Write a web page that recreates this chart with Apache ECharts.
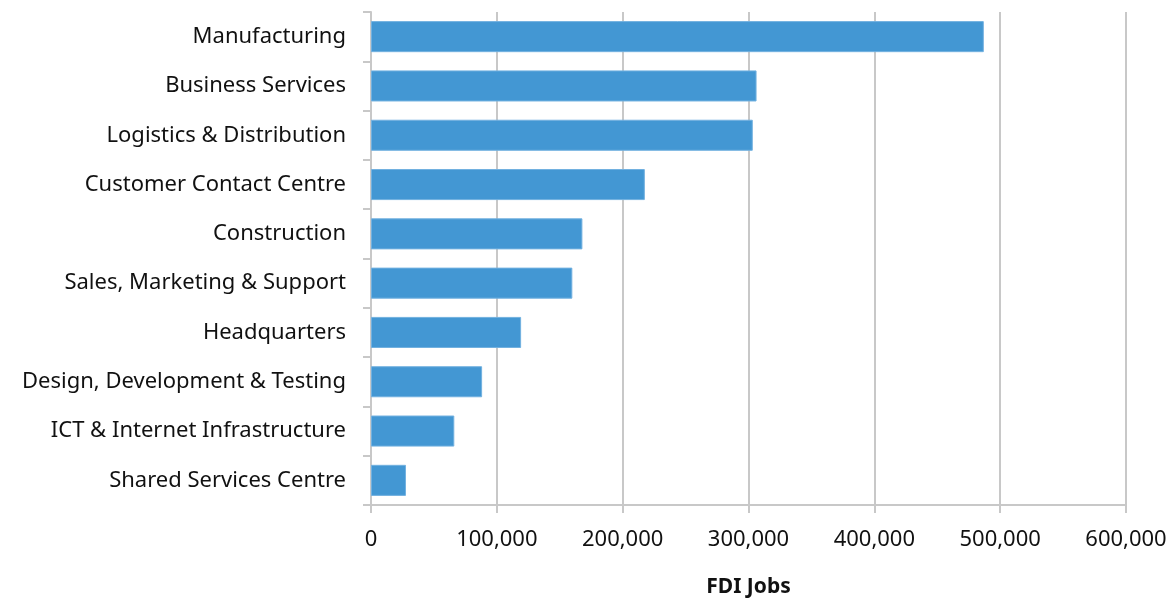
<!DOCTYPE html>
<html>
<head>
<meta charset="utf-8">
<script src="https://cdn.jsdelivr.net/npm/echarts@6/dist/echarts.min.js"></script>
<style>
  html, body { margin: 0; padding: 0; background: #ffffff; }
  #chart { width: 1176px; height: 599px; }
</style>
</head>
<body>
<div id="chart"></div>
<script>
// FDI jobs by business activity
const categories = [
  'Manufacturing',
  'Business Services',
  'Logistics & Distribution',
  'Customer Contact Centre',
  'Construction',
  'Sales, Marketing & Support',
  'Headquarters',
  'Design, Development & Testing',
  'ICT & Internet Infrastructure',
  'Shared Services Centre'
];
const jobs = [487000, 306400, 303400, 217600, 168000, 160000, 119300, 88300, 66200, 27800];
const xTicks = { min: 0, max: 600000, interval: 100000 };

const gridColor = '#c8c8c8';
const fontFamily = '"Noto Sans", "Open Sans", sans-serif';
const fontSize = 22;

const chart = echarts.init(document.getElementById('chart'), null, { renderer: 'canvas' });
chart.setOption({
  animation: false,
  grid: { left: 371, right: 50, top: 12, bottom: 94, containLabel: false, outerBoundsMode: 'none' },
  xAxis: {
    type: 'value',
    min: xTicks.min,
    max: xTicks.max,
    interval: xTicks.interval,
    name: 'FDI Jobs',
    nameLocation: 'middle',
    nameGap: 72,
    nameTextStyle: { fontFamily, fontSize: 21, fontWeight: 'bold', color: '#111' },
    axisLine: { show: true, lineStyle: { color: gridColor, width: 2 } },
    axisTick: { show: true, length: 8, lineStyle: { color: gridColor, width: 2 } },
    splitLine: { show: true, lineStyle: { color: gridColor, width: 2 } },
    axisLabel: {
      fontFamily, fontSize, color: '#111', margin: 24,
      formatter: v => v.toLocaleString('en-US')
    }
  },
  yAxis: {
    type: 'category',
    data: categories,
    inverse: true,
    axisLine: { show: true, lineStyle: { color: gridColor, width: 2 } },
    axisTick: { show: true, length: 8, alignWithLabel: false, lineStyle: { color: gridColor, width: 2 } },
    splitLine: { show: false },
    axisLabel: { fontFamily, fontSize, color: '#111', margin: 25 }
  },
  series: [{
    type: 'bar',
    data: jobs,
    barCategoryGap: '37%',
    itemStyle: { color: '#4397d3', borderColor: '#72b1e0', borderWidth: 1 }
  }]
});
</script>
</body>
</html>
